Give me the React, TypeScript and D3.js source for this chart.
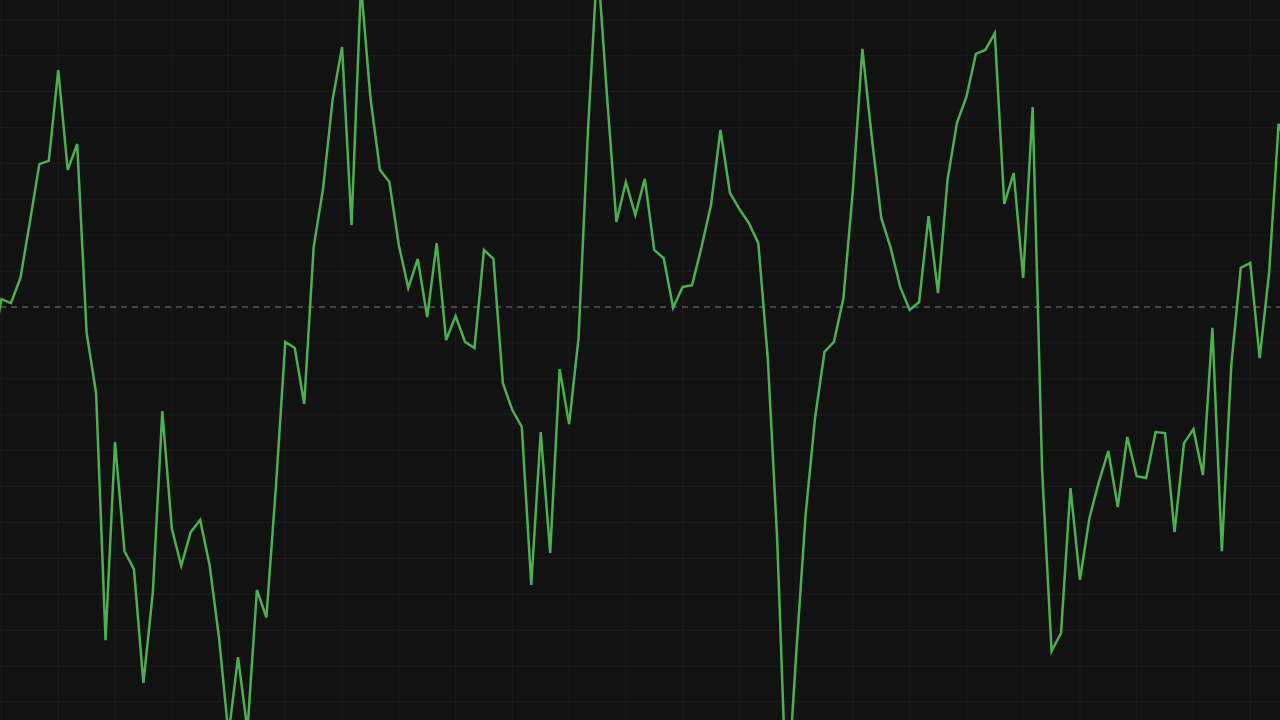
import React from "react";
import * as d3 from "d3";

// Series values (index -1 .. 136; first and last extend slightly beyond the view)
const values: number[] = [
  -12.0, 2.2, 1.1, 8.1, 23.7, 39.8, 40.7, 66.0, 38.2, 45.4,
  -7.2, -24.0, -92.8, -37.6, -68.0, -73.0, -104.7, -79.4, -29.0, -61.6,
  -72.1, -62.7, -59.3, -71.9, -92.2, -119.2, -97.5, -117.8, -78.8, -86.4,
  -50.4, -9.7, -11.4, -27.0, 16.7, 33.1, 57.7, 72.4, 22.8, 89.7,
  58.2, 38.2, 34.8, 17.3, 5.3, 13.4, -2.8, 17.8, -9.2, -2.5,
  -9.7, -11.4, 15.9, 13.4, -21.2, -28.7, -33.4, -77.4, -34.8, -68.5,
  -17.3, -32.6, -8.6, 49.3, 96.7, 59.1, 23.7, 34.8, 25.6, 35.7,
  15.9, 13.6, -0.2, 5.6, 6.1, 16.7, 28.4, 49.3, 31.8, 27.3,
  23.4, 17.8, -14.2, -64.9, -138.7, -96.9, -57.9, -30.9, -12.5, -9.7,
  2.5, 32.6, 71.9, 47.1, 24.8, 16.4, 5.6, -0.8, 1.4, 25.3,
  3.9, 35.4, 51.3, 58.5, 70.5, 71.6, 76.3, 28.7, 37.3, 8.1,
  55.7, -45.4, -95.8, -90.8, -50.4, -76.0, -58.8, -48.7, -40.1, -55.7,
  -36.2, -47.1, -47.6, -34.8, -35.1, -62.7, -37.9, -34.0, -46.8, -5.8,
  -68.0, -16.2, 10.9, 12.3, -14.2, 9.7, 51.0, 43.7,
];

const WIDTH = 1280;
const HEIGHT = 720;
const FIRST_INDEX = -1;
const LAST_INDEX = FIRST_INDEX + values.length - 1;

// Grid steps
const xGridStep = 6;
const yGridStep = 10;

export default function App() {
  const x = d3
    .scaleLinear()
    .domain([FIRST_INDEX, LAST_INDEX])
    .range([1.5 + 9.46 * FIRST_INDEX, 1.5 + 9.46 * LAST_INDEX]);
  const y = d3.scaleLinear().domain([-115, 85.5]).range([HEIGHT, 0]);

  const line = d3
    .line<number>()
    .x((_, i) => x(i + FIRST_INDEX))
    .y((d) => y(d));

  const xTicks = d3.range(0, LAST_INDEX + 1, xGridStep);
  const yTicks = d3.range(-110, 90, yGridStep).filter((v) => v !== 0);

  return (
    <div style={{ position: "fixed", left: 0, top: 0, width: WIDTH, height: HEIGHT, background: "#121212" }}>
      <svg width={WIDTH} height={HEIGHT} style={{ display: "block" }}>
        <rect width={WIDTH} height={HEIGHT} fill="#121212" />
        <g>
          {xTicks.map((t) => (
            <line key={"gx" + t} x1={x(t)} x2={x(t)} y1={0} y2={HEIGHT} stroke="#1c1c1c" strokeWidth={1} />
          ))}
          {yTicks.map((t) => (
            <line key={"gy" + t} x1={0} x2={WIDTH} y1={y(t)} y2={y(t)} stroke="#1c1c1c" strokeWidth={1} />
          ))}
        </g>
        <line x1={0} x2={WIDTH} y1={y(0)} y2={y(0)} stroke="rgba(255,255,255,0.45)" strokeWidth={1} strokeDasharray="6,5" />
        <path d={line(values) || ""} fill="none" stroke="#4caf50" strokeWidth={2.5} strokeLinejoin="miter" strokeMiterlimit={4} />
      </svg>
    </div>
  );
}
